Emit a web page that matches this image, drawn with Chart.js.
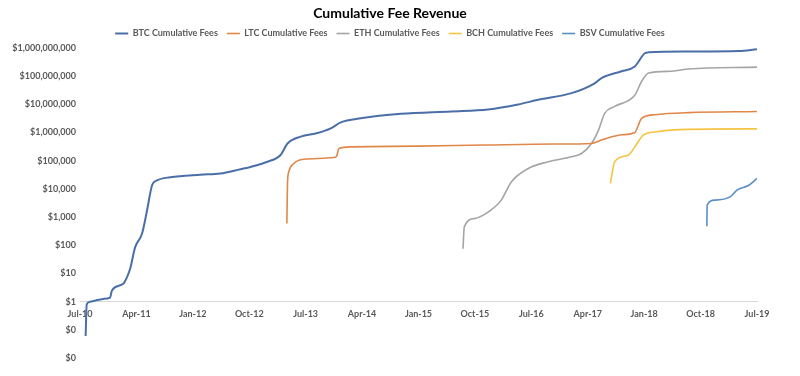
<!DOCTYPE html>
<html><head><meta charset="utf-8">
<script src="https://cdn.jsdelivr.net/npm/chart.js@4/dist/chart.umd.min.js"></script>
<style>html,body{margin:0;padding:0;background:#fff}#wrap{width:800px;height:376px}</style>
</head><body><div id="wrap"><canvas id="c" width="800" height="376"></canvas></div>
<script>
const seriesNames = ['BTC Cumulative Fees','LTC Cumulative Fees','ETH Cumulative Fees','BCH Cumulative Fees','BSV Cumulative Fees'];
const xTickLabels = ['Jul-10','Apr-11','Jan-12','Oct-12','Jul-13','Apr-14','Jan-15','Oct-15','Jul-16','Apr-17','Jan-18','Oct-18','Jul-19'];
const yTickValues = [0.01,0.1,1,10,100,1e3,1e4,1e5,1e6,1e7,1e8,1e9];
// months since Jul-2010
const btcMonths = [0.9,1.07,1.6,3.7,4.8,5.1,6.9,7.5,8.0,8.8,9.9,10.7,11.5,12.3,14.4,19.2,22.4,25.6,27.2,29.9,32,33.1,35.2,37.9,40,41.6,44.8,51.2,59.2,65.1,69.9,73.1,78.4,82.1,83.2,86.4,88.5,90.1,90.7,97.1,105.1,108];
const btcValues = [0.06,0.8,1.0,1.25,1.4,2.5,4.3,7.4,14.6,86,260,1750,13500,20000,26000,32000,35000,50000,60000,92000,160000,410000,720000,960000,1.4e6,2.3e6,3.2e6,4.6e6,5.6e6,6.6e6,9.9e6,14.5e6,25e6,56e6,86e6,150e6,220e6,650e6,700e6,750e6,780e6,900e6];
const ltcMonths = [33.0,33.1,33.3,34.1,35.7,40.5,40.96,41.3,43.2,53.9,64.5,75.7,81.6,83.2,86.4,88.5,89.6,91.7,97.1,108];
const ltcValues = [590,15700,40000,80000,113000,130000,150000,270000,310000,330000,360000,390000,410000,540000,830000,1.0e6,3.2e6,4.3e6,5.1e6,5.6e6];
const ethMonths = [61.1,61.3,62.9,65.1,67.2,68.8,71.5,74.7,78.4,80,81.6,82.7,83.7,85.3,88.5,89.6,90.7,94.4,97.1,108];
const ethValues = [75,450,880,1500,4000,17600,53000,92000,138000,180000,410000,1.2e6,4.8e6,8.5e6,21e6,66e6,130e6,150e6,180e6,210e6];
const bchMonths = [84.6,85.3,87.5,88.5,89.9,91.7,97.1,108];
const bchValues = [15600,92000,160000,310000,830000,1.05e6,1.3e6,1.35e6];
const bsvMonths = [100,100.05,101.3,103.7,104.8,106.7,108];
const bsvValues = [470,2650,4000,5200,9000,13500,23500];

const colors = ['#4a6fa8','#e0874a','#a5a5a5','#f4c542','#5b8fc4'];
const toPts = (ms, vs) => ms.map((m, i) => ({x: m, y: vs[i]}));
const allSeries = [[btcMonths,btcValues],[ltcMonths,ltcValues],[ethMonths,ethValues],[bchMonths,bchValues],[bsvMonths,bsvValues]];

const textColor = '#595959';
const fontFam = 'Lato, "Liberation Sans", sans-serif';

new Chart(document.getElementById('c'), {
  type: 'line',
  data: {
    datasets: allSeries.map((s, i) => ({
      label: seriesNames[i],
      data: toPts(s[0], s[1]),
      borderColor: colors[i],
      backgroundColor: colors[i],
      borderWidth: i === 0 ? 2 : 1.6,
      pointRadius: 0,
      cubicInterpolationMode: 'monotone',
      fill: false,
      yAxisID: 'y'
    }))
  },
  options: {
    responsive: false,
    animation: false,
    layout: {padding: {left: 0, right: 20, top: 0, bottom: 18}},
    plugins: {
      title: {display: true, text: 'Cumulative Fee Revenue', color: '#000',
        font: {family: fontFam, size: 14, weight: 'bold', lineHeight: 1.0}, padding: {top: 6, bottom: 0}},
      legend: {display: true, position: 'top',
        labels: {usePointStyle: true, pointStyle: 'line', pointStyleWidth: 13, boxHeight: 2,
          padding: 9, color: textColor, font: {family: fontFam, size: 9, weight: 'bold'}}},
      tooltip: {enabled: false}
    },
    scales: {
      x: {
        type: 'linear', min: 0, max: 108,
        position: {y: 1},
        grid: {display: false, drawTicks: false},
        border: {display: true, color: '#d9d9d9', width: 1},
        ticks: {stepSize: 9, padding: 7, color: textColor, maxRotation: 0, autoSkip: false,
          font: {family: fontFam, size: 9, weight: 'bold'},
          callback: v => xTickLabels[Math.round(v / 9)] || ''}
      },
      y: {
        type: 'logarithmic', min: 0.01, max: 1e9,
        grid: {display: false, drawTicks: false},
        border: {display: false},
        afterBuildTicks: s => { s.ticks = yTickValues.map(v => ({value: v})); },
        afterFit: s => { s.width = 80; },
        ticks: {padding: 4, color: textColor, font: {family: fontFam, size: 9, weight: 'bold'},
          callback: v => '$' + Math.round(v).toLocaleString('en-US')}
      },
      yR: {
        type: 'linear', position: 'right', display: true,
        grid: {display: false, drawTicks: false},
        border: {display: false},
        ticks: {display: false},
        afterFit: s => { s.width = 23; }
      }
    }
  }
});
</script></body></html>
